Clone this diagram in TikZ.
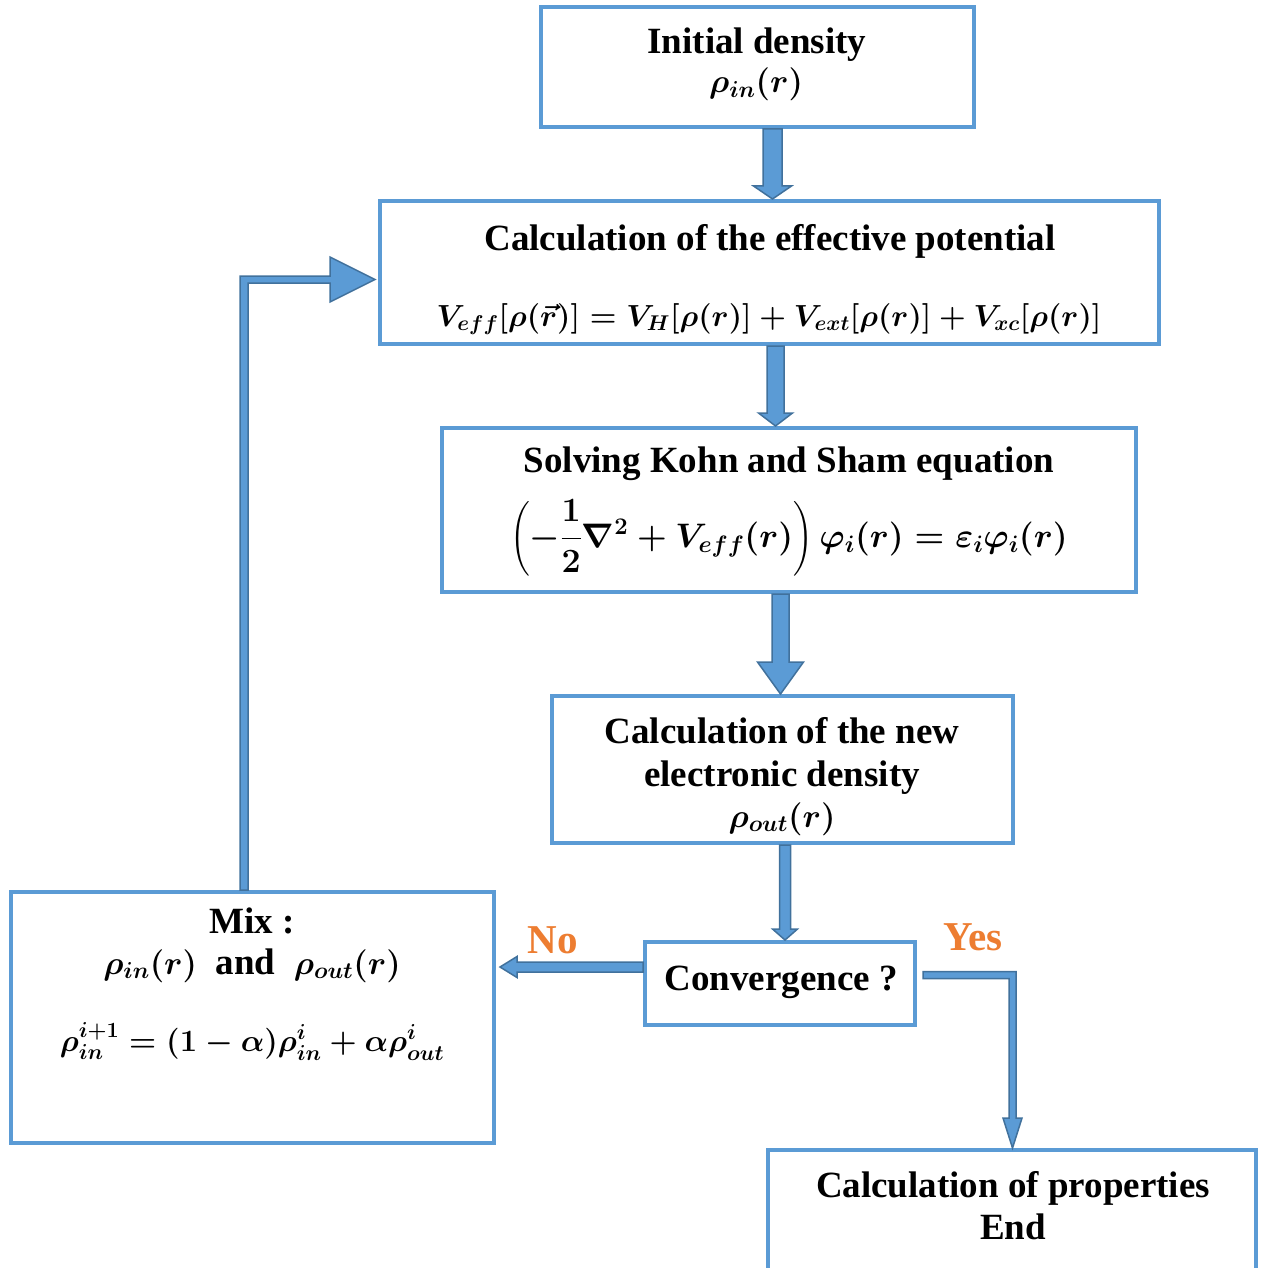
\RequirePackage{fix-cm}
\documentclass[tikz,border=0pt]{standalone}
\usepackage{amsmath,bm}
\usepackage[no-math]{fontspec}
\setmainfont{Liberation Serif}
\usetikzlibrary{calc}
\definecolor{boxblue}{HTML}{5B9BD5}
\definecolor{arrowdark}{HTML}{41719C}
\definecolor{labelorange}{HTML}{ED7D31}
\newcommand{\msize}[1]{\fontsize{#1}{#1}\selectfont}
\tikzset{
  box/.style={draw=boxblue, line width=4pt, inner sep=0pt},
  blockarrow/.style={fill=boxblue, draw=arrowdark, line width=1.5pt, line join=miter},
  txt/.style={anchor=base, inner sep=0pt, font=\fontsize{37}{43}\selectfont\bfseries\boldmath},
  lab/.style={anchor=base, inner sep=0pt, text=labelorange, font=\fontsize{41}{46}\selectfont\bfseries},
}
\newcommand{\vblockarrow}[6]{%
  \draw[blockarrow] let \p1=(#1 |- #2), \p2=(#1 |- #3) in
  (\x1-#4,\y1) -- (\x1-#4,\y2+#6) -- (\x1-#5,\y2+#6) -- (\x1,\y2) -- (\x1+#5,\y2+#6) -- (\x1+#4,\y2+#6) -- (\x1+#4,\y1) -- cycle;}
\begin{document}
\begin{tikzpicture}[x=1pt,y=-1pt]
\useasboundingbox (0,0) rectangle (1260,1268);
\clip (0,0) rectangle (1260,1268);

% boxes
\node[box, minimum width=433pt, minimum height=120pt] (b1) at (757.5,67) {};
\node[box, minimum width=779pt, minimum height=143pt] (b2) at (769.5,272.5) {};
\node[box, minimum width=694pt, minimum height=164pt] (b3) at (789,510) {};
\node[box, minimum width=461pt, minimum height=147pt] (b4) at (782.5,769.5) {};
\node[box, minimum width=270pt, minimum height=83pt] (conv) at (780,983.5) {};
\node[box, minimum width=483pt, minimum height=251pt] (mix) at (252.5,1017.5) {};
\node[box, minimum width=488pt, minimum height=180pt] (endb) at (1012,1240) {};

% texts
\node[txt] (t1a) at (757,54) {Initial density};
\node[txt] (t1b) at (756,93) {\msize{33}$\rho_{in}(r)$};
\node[txt] (t2a) at (770,250) {Calculation of the effective potential};
\node[txt] (t2b) at (769,326) {\msize{30.5}$V_{eff}[\rho(\vec{r})] = V_H[\rho(r)] + V_{ext}[\rho(r)] + V_{xc}[\rho(r)]$};
\node[txt] (t3a) at (789,472) {Solving Kohn and Sham equation};
\node[txt] (t3b) at (789,547) {\msize{34}$\left(-\dfrac{\mathbf{1}}{\mathbf{2}}\nabla^2 + V_{eff}(r)\right)\varphi_i(r) = \varepsilon_i\varphi_i(r)$};
\node[txt] (t4a) at (782,743) {Calculation of the new};
\node[txt] (t4b) at (782,786) {electronic density};
\node[txt] (t4c) at (782,827) {\msize{33}$\rho_{out}(r)$};
\node[txt] (t5) at (781,990) {Convergence ?};
\node[txt] (t6a) at (252,933) {Mix :};
\node[txt] (t6b) at (252,974) {{\msize{33}$\rho_{in}(r)$}\ \ and\ \ {\msize{33}$\rho_{out}(r)$}};
\node[txt] (t6c) at (252,1051) {\msize{31}$\rho_{in}^{i+1} = (1-\alpha)\rho_{in}^{i} + \alpha\rho_{out}^{i}$};
\node[txt] (t7a) at (1013,1197) {Calculation of properties};
\node[txt] (t7b) at (1013,1239) {End};
\node[lab] (no) at (553,953) {No};
\node[lab] (yes) at (973,950) {Yes};

% vertical block arrows
\coordinate (ax1) at (772.5,0);
\coordinate (ax2) at (775.5,0);
\coordinate (ax3) at (780.5,0);
\coordinate (ax4) at (785,0);
\vblockarrow{ax1}{b1.south}{b2.north}{9.5pt}{19pt}{13pt}
\vblockarrow{ax2}{b2.south}{b3.north}{8.5pt}{17pt}{13pt}
\vblockarrow{ax3}{b3.south}{b4.north}{8.5pt}{23pt}{32pt}
\vblockarrow{ax4}{b4.south}{conv.north}{5.5pt}{12.5pt}{11pt}

% loop arrow from mix back to b2
\coordinate (lx) at (244,0);
\coordinate (ly) at (0,279.5);
\coordinate (tipL) at ([xshift=-3pt]b2.west);
\draw[blockarrow] let \p1=(lx |- mix.north), \p2=(tipL |- ly) in
  (\x1-4pt,\y1) -- (\x1-4pt,\y2+3.5pt) -- (\x2-45pt,\y2+3.5pt) -- (\x2-45pt,\y2+22.5pt)
  -- (\x2,\y2) -- (\x2-45pt,\y2-22.5pt) -- (\x2-45pt,\y2-3.5pt) -- (\x1+4pt,\y2-3.5pt)
  -- (\x1+4pt,\y1) -- cycle;

% No arrow: conv -> mix
\coordinate (ny) at (0,967);
\coordinate (tipN) at ([xshift=4pt]mix.east);
\draw[blockarrow] let \p1=(conv.west |- ny), \p2=(tipN |- ny) in
  (\x1,\y1+5pt) -- (\x2+17pt,\y1+5pt) -- (\x2+17pt,\y1+10.5pt) -- (\x2,\y1)
  -- (\x2+17pt,\y1-10.5pt) -- (\x2+17pt,\y1-5pt) -- (\x1,\y1-5pt) -- cycle;

% Yes arrow: conv -> end
\coordinate (yy) at (0,975);
\coordinate (yx) at (1012.5,0);
\coordinate (startY) at ([xshift=6pt]conv.east);
\draw[blockarrow] let \p1=(startY |- yy), \p2=(yx |- endb.north) in
  (\x1,\y1+3.5pt) -- (\x2+3.5pt,\y1+3.5pt) -- (\x2+3.5pt,\y2+30pt) -- (\x2+9.5pt,\y2+30pt)
  -- (\x2,\y2) -- (\x2-9.5pt,\y2+30pt) -- (\x2-3.5pt,\y2+30pt) -- (\x2-3.5pt,\y1-3.5pt)
  -- (\x1,\y1-3.5pt) -- cycle;
\end{tikzpicture}
\end{document}
